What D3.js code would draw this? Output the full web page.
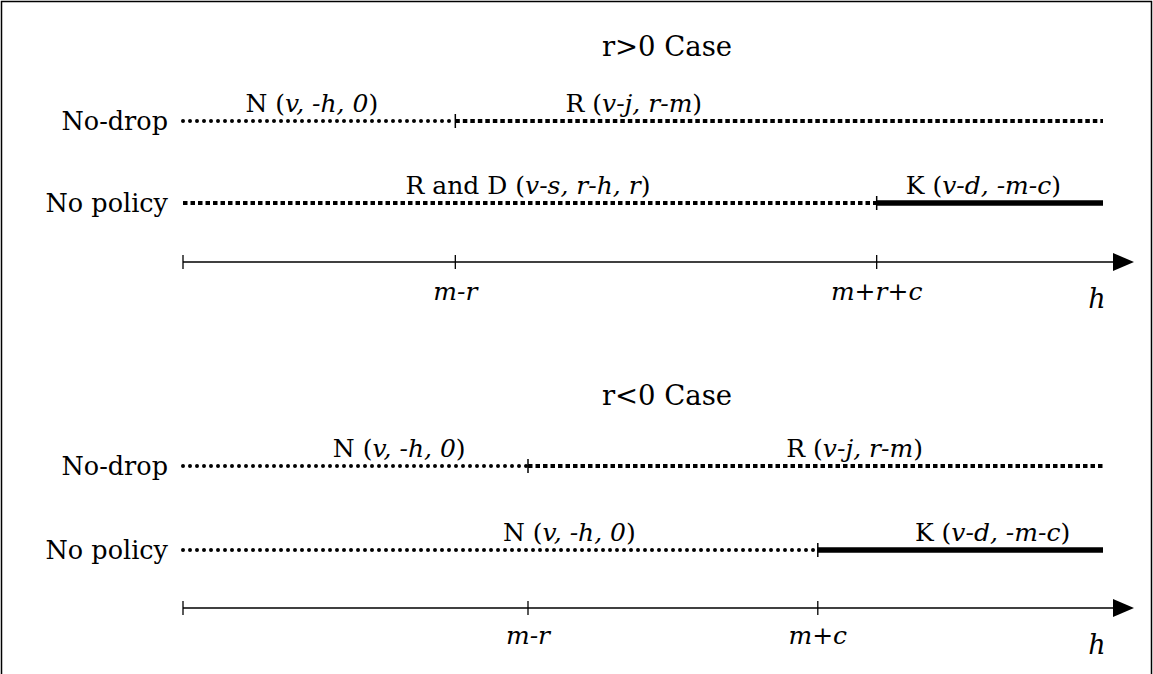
<!DOCTYPE html><html><head><meta charset="utf-8">
<script src="https://cdn.jsdelivr.net/npm/d3@7"></script>
<style>body{margin:0;background:#fff}</style></head>
<body><svg id="c" width="1153" height="674"></svg>
<script>
const panelTitles=["r>0 Case","r<0 Case"];
const rowLabels=["No-drop","No policy"];
const segStart=[0,29.6,0,75.4,0,37.5,0,69.0];
const segEnd=[29.6,100,75.4,100,37.5,100,69.0,100];
const segStyle=["dot","dash","dash","solid","dot","dash","dot","solid"];
const segLabel=[["N (","v, -h, 0",")"],["R (","v-j, r-m",")"],["R and D (","v-s, r-h, r",")"],["K (","v-d, -m-c",")"],["N (","v, -h, 0",")"],["R (","v-j, r-m",")"],["N (","v, -h, 0",")"],["K (","v-d, -m-c",")"]];
const segLabelPos=[14,49,37.5,87,23.5,73,42,88];
const tickVals=[[0,29.6,75.4],[0,37.5,69.0]];
const tickLabels=[["","m-r","m+r+c"],["","m-r","m+c"]];
const svg=d3.select("#c");
const x=d3.scaleLinear().domain([0,100]).range([183,1103]);
const T=(sel,size)=>sel.attr("font-family","DejaVu Serif").style("font-size",size+"px");
svg.append("path").attr("d","M1.5,674V1.5H1151.5V674").attr("fill","none").attr("stroke","#000").attr("stroke-width",1.5);
const panelY=[{title:56,rows:[121,203],axis:262,tl:300,h:308},{title:405,rows:[466,550],axis:608,tl:644,h:654}];
panelTitles.forEach((t,p)=>{
 const P=panelY[p];
 T(svg.append("text").attr("x",667).attr("y",P.title).attr("text-anchor","middle"),27.5).text(t);
 rowLabels.forEach((r,i)=>T(svg.append("text").attr("x",168).attr("y",P.rows[i]+9).attr("text-anchor","end"),25.5).text(r));
 svg.append("line").attr("x1",x(0)).attr("x2",1115).attr("y1",P.axis).attr("y2",P.axis).attr("stroke","#000").attr("stroke-width",1.3);
 svg.append("path").attr("d",`M1113,${P.axis-9}L1134,${P.axis}L1113,${P.axis+9}Z`);
 tickVals[p].forEach((v,k)=>{
  svg.append("line").attr("x1",x(v)).attr("x2",x(v)).attr("y1",P.axis-7).attr("y2",P.axis+7).attr("stroke","#000").attr("stroke-width",1.3);
  if(tickLabels[p][k]) T(svg.append("text").attr("x",x(v)).attr("y",P.tl).attr("text-anchor","middle").style("font-style","italic"),25).text(tickLabels[p][k]);
 });
 T(svg.append("text").attr("x",1097).attr("y",P.h).attr("text-anchor","middle").style("font-style","italic"),27).text("h");
});
segStart.forEach((s,i)=>{
 const p=Math.floor(i/4),row=Math.floor((i%4)/2),y=panelY[p].rows[row];
 const l=svg.append("line").attr("x1",x(s)).attr("x2",x(segEnd[i])).attr("y1",y).attr("y2",y).attr("stroke","#000");
 if(segStyle[i]=="dot") l.attr("stroke-width",4).attr("stroke-dasharray","0 7").attr("stroke-linecap","round");
 else if(segStyle[i]=="dash") l.attr("stroke-width",4).attr("stroke-dasharray","4.5 3");
 else l.attr("stroke-width",5.5);
 if(s>0) svg.append("line").attr("x1",x(s)).attr("x2",x(s)).attr("y1",y-7).attr("y2",y+7).attr("stroke","#000").attr("stroke-width",1.5);
 const t=T(svg.append("text").attr("x",x(segLabelPos[i])).attr("y",y-9).attr("text-anchor","middle"),25);
 segLabel[i].forEach((part,j)=>t.append("tspan").style("font-style",j==1?"italic":"normal").text(part));
});
</script></body></html>
